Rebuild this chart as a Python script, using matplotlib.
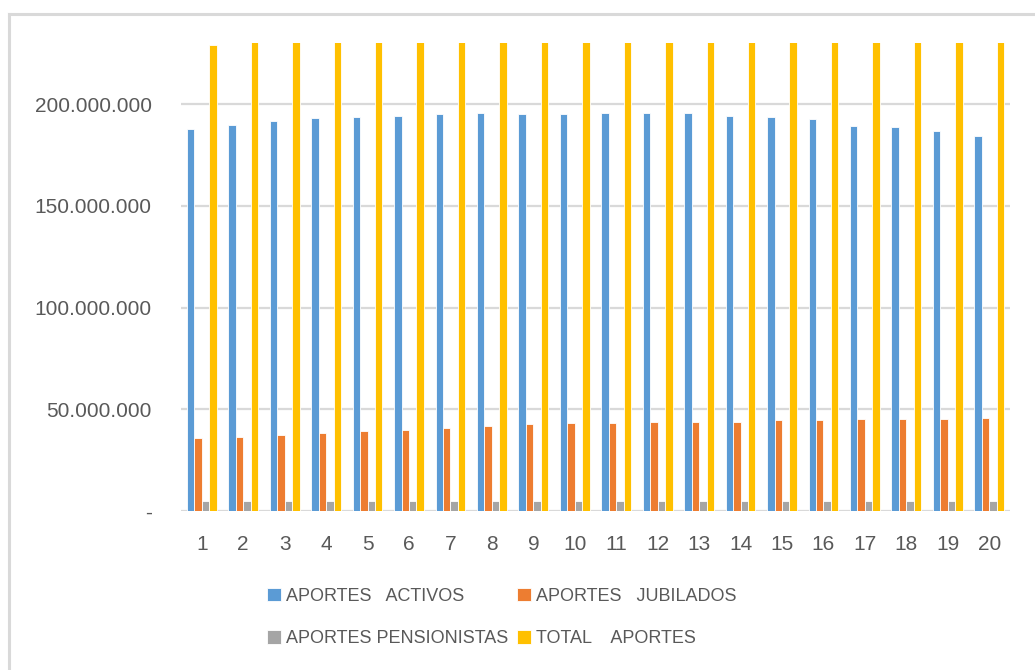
import numpy as np
import matplotlib
matplotlib.use("Agg")
import matplotlib.pyplot as plt
import matplotlib.ticker as ticker
from matplotlib.lines import Line2D

# Aportes por periodo (en pesos)
periodos = [str(i) for i in range(1, 21)]
aportes_activos = [187.9, 189.8, 191.8, 193.0, 193.6, 194.3, 194.9, 195.6, 194.9, 194.9,
                   195.6, 195.6, 195.6, 194.3, 193.6, 192.5, 189.2, 188.5, 186.7, 184.1]
aportes_jubilados = [35.7, 36.2, 37.5, 38.2, 39.3, 40.0, 40.6, 41.9, 42.6, 43.2,
                     43.2, 43.7, 43.7, 43.7, 44.5, 44.5, 45.0, 45.0, 45.0, 45.7]
aportes_pensionistas = [4.8, 4.8, 4.8, 4.8, 4.8, 4.8, 4.8, 4.8, 4.8, 4.8,
                        4.8, 4.8, 4.8, 4.8, 4.8, 4.8, 4.8, 4.8, 4.8, 4.8]
total_aportes = [229.0, 230.8, 234.1, 236.0, 237.7, 239.1, 240.3, 242.3, 242.3, 242.9,
                 243.6, 244.1, 244.1, 242.8, 242.9, 241.8, 239.0, 238.3, 236.5, 234.6]

series = [
    ("APORTES   ACTIVOS", aportes_activos, "#5B9BD5"),
    ("APORTES   JUBILADOS", aportes_jubilados, "#ED7D31"),
    ("APORTES PENSIONISTAS", aportes_pensionistas, "#A5A5A5"),
    ("TOTAL    APORTES", total_aportes, "#FFC000"),
]

TEXT = "#595959"
GRID = "#D9D9D9"
FONT = "Liberation Sans"

fig = plt.figure(figsize=(10.35, 6.7), dpi=100)
fig.patch.set_facecolor("white")

# light chart-area border (only top/left visible)
fig.add_artist(Line2D([9 / 1035, 9 / 1035], [0, 1 - 13.5 / 670], color=GRID, lw=2.2))
fig.add_artist(Line2D([9 / 1035, 1], [1 - 13.5 / 670, 1 - 13.5 / 670], color=GRID, lw=2.2))

ax = fig.add_axes([181 / 1035, 1 - 511 / 670, (1010 - 181) / 1035, (511 - 43) / 670])

x = np.arange(len(periodos))
width = 0.18
handles = []
for i, (name, vals, color) in enumerate(series):
    b = ax.bar(x + (i - 1.5) * width, np.array(vals) * 1e6, width,
               color=color, edgecolor="white", linewidth=0.6, label=name, zorder=3)
    handles.append(b)

ax.set_xlim(-0.5, len(periodos) - 0.5)
ax.set_ylim(0, 230e6)
ax.set_yticks(np.arange(0, 200e6 + 1, 50e6))
ax.yaxis.set_major_formatter(ticker.FuncFormatter(
    lambda v, _: "-" if v == 0 else f"{v:,.0f}".replace(",", ".")))
ax.set_xticks(x)
ax.set_xticklabels(periodos)

ax.grid(axis="y", color=GRID, linewidth=1.6, zorder=0)
for s in ax.spines.values():
    s.set_visible(False)
ax.tick_params(axis="both", length=0, colors=TEXT, labelsize=15)
ax.tick_params(axis="y", pad=21)
ax.tick_params(axis="x", pad=17)
for lbl in ax.get_xticklabels() + ax.get_yticklabels():
    lbl.set_fontfamily(FONT)

order = [0, 2, 1, 3]
fig.legend([handles[i] for i in order], [series[i][0] for i in order],
           ncol=2, loc="upper left", bbox_to_anchor=(258 / 1035, 1 - 579 / 670),
           frameon=False, borderpad=0, handlelength=0.75, handleheight=0.75,
           handletextpad=0.3, columnspacing=0.5, labelspacing=1.4,
           prop={"family": FONT, "size": 13}, labelcolor=TEXT)

fig.savefig("out.png", dpi=100, facecolor="white")
